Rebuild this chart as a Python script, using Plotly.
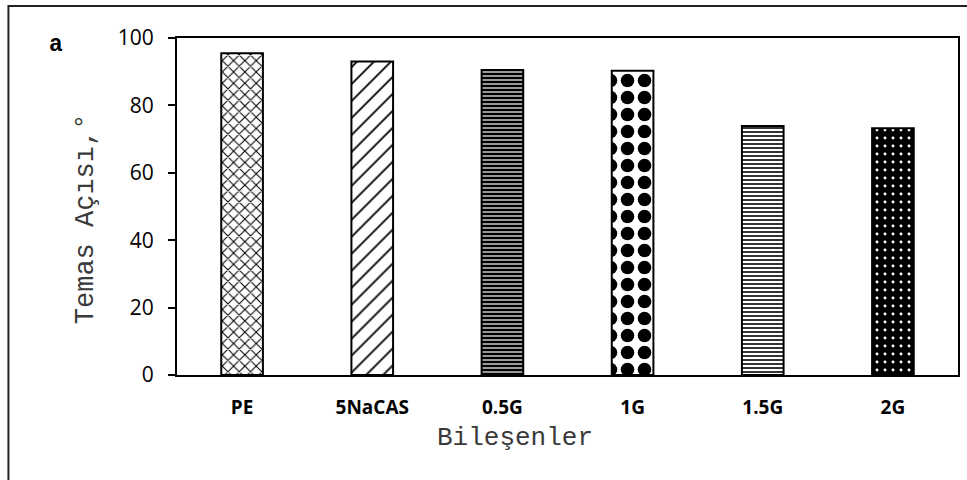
import plotly.graph_objects as go

# Contact angle per composition
categories = ["PE", "5NaCAS", "0.5G", "1G", "1.5G", "2G"]
contact_angle = [95.5, 93.0, 90.5, 90.3, 73.9, 73.2]

y_ticks = [0, 20, 40, 60, 80, 100]

# Per-bar hatch styles (shape, foreground, background, size, solidity)
pattern_shapes = ["x", "/", "-", ".", "-", "."]
pattern_fg = ["black", "black", "white", "black", "black", "white"]
pattern_bg = ["white", "white", "black", "white", "white", "black"]
pattern_size = [8, 12, 4, 17, 4, 8]
pattern_solidity = [0.25, 0.15, 0.3, 0.5, 0.4, 0.1]

W, H = 967, 480
ML, MR, MT, MB = 177, 7, 38, 105
pw, ph = W - ML - MR, H - MT - MB

def px_x(px):
    return (px - ML) / pw

def px_y(py):
    return (H - MB - py) / ph

fig = go.Figure()
for i, cat in enumerate(categories):
    fig.add_trace(go.Bar(
        x=[cat],
        y=[contact_angle[i]],
        marker=dict(
            color=pattern_bg[i],
            line=dict(color="black", width=2),
            pattern=dict(
                shape=pattern_shapes[i],
                fgcolor=pattern_fg[i],
                bgcolor=pattern_bg[i],
                size=pattern_size[i],
                solidity=pattern_solidity[i],
                fillmode="replace",
            ),
        ),
        width=0.32,
        name=cat,
    ))

fig.update_layout(
    width=W, height=H,
    margin=dict(l=ML, r=MR, t=MT, b=MB, pad=0),
    paper_bgcolor="white",
    plot_bgcolor="white",
    showlegend=False,
    barmode="overlay",
    xaxis=dict(
        categoryorder="array", categoryarray=categories,
        showline=True, linecolor="black", linewidth=2, mirror=True,
        ticks="", showgrid=False,
        tickfont=dict(family="Open Sans", size=19, color="black", weight="bold"),
        ticklabelstandoff=14,
    ),
    yaxis=dict(
        range=[0, 100],
        tickvals=y_ticks,
        showline=True, linecolor="black", linewidth=2, mirror=True,
        ticks="outside", ticklen=7, tickwidth=2, tickcolor="black",
        showgrid=False, zeroline=False,
        tickfont=dict(family="Open Sans", size=21, color="black"),
        ticklabelstandoff=10,
    ),
    shapes=[
        # outer frame around the whole figure
        dict(type="rect", xref="paper", yref="paper",
             x0=px_x(8), x1=px_x(990), y0=px_y(500), y1=px_y(6),
             line=dict(color="#222222", width=2), layer="below"),
    ],
    annotations=[
        dict(text="Bileşenler", xref="paper", yref="paper",
             x=px_x(516), y=px_y(438), showarrow=False,
             xanchor="center", yanchor="middle",
             font=dict(family="Liberation Mono", size=26, color="#3a3a3a")),
        dict(text="Temas Açısı,°", xref="paper", yref="paper",
             x=px_x(86), y=px_y(219), showarrow=False, textangle=-90,
             xanchor="center", yanchor="middle",
             font=dict(family="Liberation Mono", size=27, color="#3a3a3a")),
        dict(text="a", xref="paper", yref="paper",
             x=px_x(56), y=px_y(45), showarrow=False,
             xanchor="center", yanchor="middle",
             font=dict(family="Liberation Mono", size=23, color="black",
                       weight="bold")),
    ],
)

fig.write_html("out.html")
